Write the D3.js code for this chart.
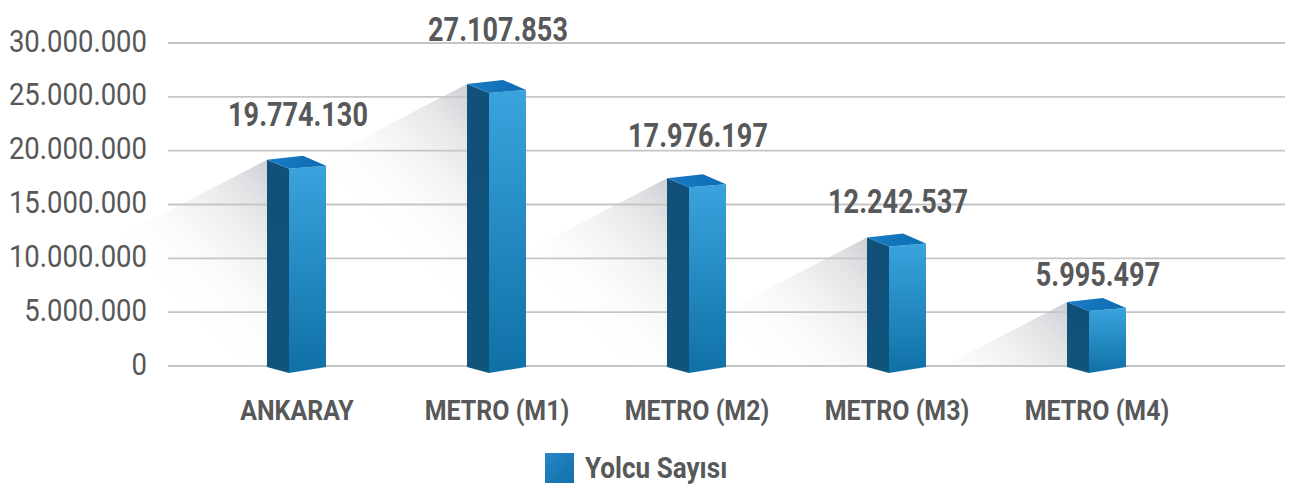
<!DOCTYPE html>
<html><head><meta charset="utf-8">
<script src="https://cdn.jsdelivr.net/npm/d3@7"></script>
<style>html,body{margin:0;padding:0;background:#fff;}svg{display:block;}</style>
</head><body>
<script>
const categories = ["ANKARAY", "METRO (M1)", "METRO (M2)", "METRO (M3)", "METRO (M4)"];
const values = [19774130, 27107853, 17976197, 12242537, 5995497];
const valueLabels = ["19.774.130", "27.107.853", "17.976.197", "12.242.537", "5.995.497"];
const tickValues = [0, 5000000, 10000000, 15000000, 20000000, 25000000, 30000000];
const tickLabels = ["0", "5.000.000", "10.000.000", "15.000.000", "20.000.000", "25.000.000", "30.000.000"];
const seriesName = "Yolcu Sayısı";

const W = 1293, H = 489;
const svg = d3.select("body").append("svg").attr("width", W).attr("height", H);
svg.append("rect").attr("width", W).attr("height", H).attr("fill", "#fff");
const defs = svg.append("defs");

const yGrid = d3.scaleLinear().domain([0, 30000000]).range([366, 43]);
const yBar = d3.scaleLinear().domain([0, 30000000]).range([373, 63]);
const yLabel = d3.scaleLinear().domain([0, 30000000]).range([355, 8]);
const x = d3.scaleBand().domain(categories).range([197, 1197]).padding(0);
const textFont = "Roboto, 'Open Sans', sans-serif";
const grey = "#57585a";

// condensed text helper
function ctext(parent, tx, ty, sx, str, opts) {
  const g = parent.append("g").attr("transform", `translate(${tx},${ty}) scale(${sx},1)`);
  const t = g.append("text").attr("x", 0).attr("y", 0)
    .attr("font-family", textFont).attr("fill", grey)
    .attr("font-size", opts.size).attr("font-weight", opts.weight || "normal")
    .attr("text-anchor", opts.anchor || "start");
  if (opts.baseline) t.attr("dominant-baseline", opts.baseline);
  t.text(str);
  return t;
}

const sideW = 22, frontW = 37;
function joinX(c){ return x(c) + x.bandwidth()/2 - 8; }
const baseJoin = yBar(0);

// shadows
categories.forEach((c, i) => {
  const jx = joinX(c), top = yBar(values[i]);
  const L = jx - sideW, T = top - 9;
  const base = yGrid(0);
  const len = (base - T) / 0.52;
  const gid = "sh" + i;
  const g = defs.append("linearGradient").attr("id", gid).attr("gradientUnits", "userSpaceOnUse")
    .attr("x1", L).attr("y1", T).attr("x2", L - 120).attr("y2", T + 120);
  g.append("stop").attr("offset", 0).attr("stop-color", "#cfd0d4").attr("stop-opacity", 1);
  g.append("stop").attr("offset", 0.25).attr("stop-color", "#e2e3e5").attr("stop-opacity", 0.9);
  g.append("stop").attr("offset", 1).attr("stop-color", "#ffffff").attr("stop-opacity", 0);
  svg.append("polygon")
    .attr("points", [[L, T], [L - len, base], [L, base]].map(p => p.join(",")).join(" "))
    .attr("fill", `url(#${gid})`);
});

// gridlines
svg.append("g").selectAll("line").data(tickValues).join("line")
  .attr("x1", 168).attr("x2", 1285)
  .attr("y1", d => yGrid(d)).attr("y2", d => yGrid(d))
  .attr("stroke", "#c6c6c6").attr("stroke-width", 1.8);

// y tick labels
const yAxisG = svg.append("g");
tickValues.forEach((d, i) => {
  ctext(yAxisG, 147, yGrid(d) - 2, 0.887, tickLabels[i], {size: 31, anchor: "end", baseline: "central"});
});

// gradients for bars
const fg = defs.append("linearGradient").attr("id", "front").attr("x1", 0).attr("y1", 0).attr("x2", 0).attr("y2", 1);
fg.append("stop").attr("offset", 0).attr("stop-color", "#3aa3dd");
fg.append("stop").attr("offset", 1).attr("stop-color", "#0f70a6");
const tg = defs.append("linearGradient").attr("id", "topf").attr("x1", 0).attr("y1", 0).attr("x2", 1).attr("y2", 0);
tg.append("stop").attr("offset", 0).attr("stop-color", "#1a7cc4");
tg.append("stop").attr("offset", 1).attr("stop-color", "#0c6cb4");
const sg = defs.append("linearGradient").attr("id", "side").attr("x1", 0).attr("y1", 0).attr("x2", 0).attr("y2", 1);
sg.append("stop").attr("offset", 0).attr("stop-color", "#115078");
sg.append("stop").attr("offset", 1).attr("stop-color", "#10547c");

// bars
const bars = svg.append("g").selectAll("g").data(categories).join("g");
bars.each(function(c, i){
  const g = d3.select(this);
  const jx = joinX(c), top = yBar(values[i]);
  const pts = a => a.map(p => p.join(",")).join(" ");
  g.append("polygon").attr("fill", "url(#side)")
    .attr("points", pts([[jx - sideW, top - 9], [jx, top], [jx, baseJoin], [jx - sideW, baseJoin - 6]]));
  g.append("polygon").attr("fill", "url(#front)")
    .attr("points", pts([[jx, top], [jx + frontW, top - 3], [jx + frontW, baseJoin - 6], [jx, baseJoin]]));
  g.append("polygon").attr("fill", "url(#topf)")
    .attr("points", pts([[jx, top], [jx - sideW, top - 9], [jx + 14, top - 13], [jx + frontW, top - 3]]));
});

// value labels
const vlG = svg.append("g");
categories.forEach((c, i) => {
  ctext(vlG, x(c) + x.bandwidth()/2 + 1, yLabel(values[i]), 0.82, valueLabels[i], {size: 33, weight: "bold", anchor: "middle"});
});

// category labels
const clG = svg.append("g");
categories.forEach(c => {
  ctext(clG, x(c) + x.bandwidth()/2, 420, 0.89, c, {size: 28, weight: "bold", anchor: "middle"});
});

// legend
const lg = defs.append("linearGradient").attr("id", "leg").attr("x1", 0).attr("y1", 0).attr("x2", 1).attr("y2", 1);
lg.append("stop").attr("offset", 0).attr("stop-color", "#2686c8");
lg.append("stop").attr("offset", 1).attr("stop-color", "#1270a8");
svg.append("rect").attr("x", 545).attr("y", 453).attr("width", 29).attr("height", 30).attr("fill", "url(#leg)");
ctext(svg, 585, 478, 0.9, seriesName, {size: 29, weight: "bold"});
</script>
</body></html>
